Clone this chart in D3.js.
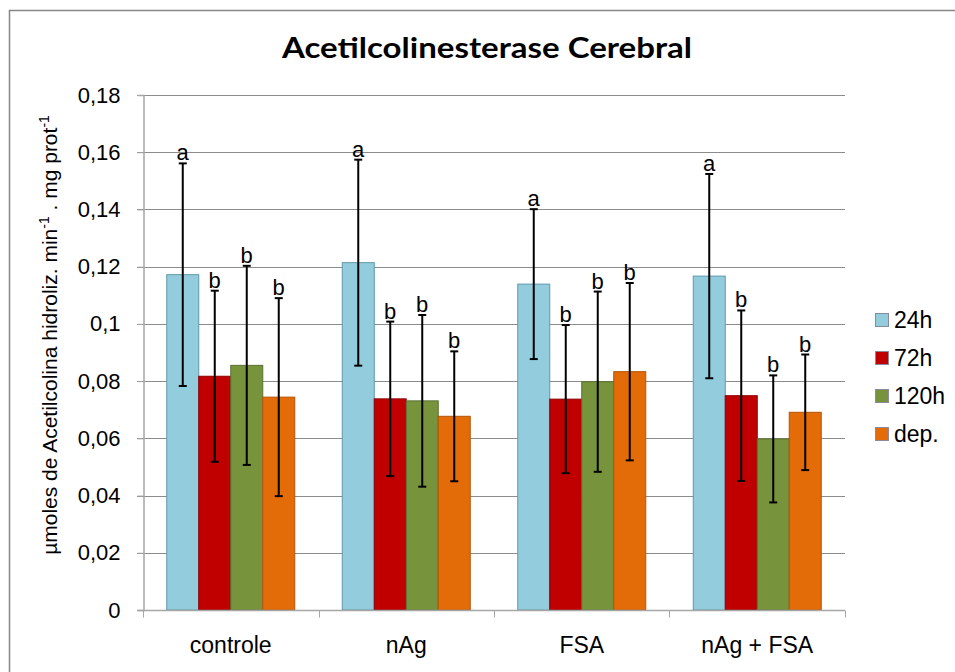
<!DOCTYPE html>
<html>
<head>
<meta charset="utf-8">
<script src="https://cdn.jsdelivr.net/npm/d3@7"></script>
<style>
  body { margin: 0; background: #fff; }
  text { font-family: "Liberation Sans", Arial, sans-serif; fill: #000; }
</style>
</head>
<body>
<svg id="chart" width="955" height="672"></svg>
<script>
// data
var groups = ['controle', 'nAg', 'FSA', 'nAg + FSA'];
var series = ['24h', '72h', '120h', 'dep.'];
var colors = ['#93cddd', '#c00000', '#77933c', '#e36c09'];
var borders = ['#5f98ab', '#8e0000', '#5a7030', '#b25407'];
var means = [
  [0.1172, 0.0817, 0.0855, 0.0744],
  [0.1214, 0.0738, 0.0731, 0.0677],
  [0.1139, 0.0737, 0.0798, 0.0833],
  [0.1167, 0.0749, 0.0598, 0.0691]
];
var sds = [
  [0.0389, 0.0299, 0.0348, 0.0346],
  [0.0360, 0.0270, 0.0300, 0.0227],
  [0.0262, 0.0259, 0.0315, 0.0310],
  [0.0357, 0.0298, 0.0222, 0.0202]
];
var letters = [
  ['a', 'b', 'b', 'b'],
  ['a', 'b', 'b', 'b'],
  ['a', 'b', 'b', 'b'],
  ['a', 'b', 'b', 'b']
];
var yTicks = [0, 0.02, 0.04, 0.06, 0.08, 0.1, 0.12, 0.14, 0.16, 0.18];

var svg = d3.select('#chart');

// outer chart frame
svg.append('rect')
  .attr('x', 9.5).attr('y', 10.5)
  .attr('width', 960).attr('height', 680)
  .attr('fill', 'none').attr('stroke', '#878787').attr('stroke-width', 1.5);

var x0 = d3.scaleBand().domain(groups).range([143, 845]).paddingInner(0.2707).paddingOuter(0.1354);
var x1 = d3.scaleBand().domain(series).range([0, x0.bandwidth()]);
var y = d3.scaleLinear().domain([0, 0.18]).range([610, 95]);

function fmt(d) { return String(+d.toFixed(2)).replace('.', ','); }

// gridlines
svg.append('g').selectAll('line').data(yTicks.slice(1)).enter().append('line')
  .attr('x1', 137).attr('x2', 845)
  .attr('y1', function (d) { return Math.round(y(d)) + 0.5; })
  .attr('y2', function (d) { return Math.round(y(d)) + 0.5; })
  .attr('stroke', '#8c8c8c').attr('stroke-width', 1);

// y axis
var yAxis = svg.append('g')
  .attr('transform', 'translate(143.5,0)')
  .call(d3.axisLeft(y).tickValues(yTicks).tickSize(6).tickPadding(17).tickFormat(fmt));
yAxis.select('.domain').attr('stroke', '#a6a6a6').attr('stroke-width', 1.5);
yAxis.selectAll('.tick line').attr('stroke', '#a6a6a6');
yAxis.selectAll('.tick text').attr('font-size', 22).attr('font-family', '"Liberation Sans", Arial, sans-serif').attr('fill', '#000');

// bars
var gGroups = svg.append('g').selectAll('g').data(groups).enter().append('g')
  .attr('transform', function (d) { return 'translate(' + x0(d) + ',0)'; });

gGroups.selectAll('rect').data(function (d, gi) {
  return series.map(function (s, si) { return { s: s, si: si, v: means[gi][si] }; });
}).enter().append('rect')
  .attr('x', function (d) { return x1(d.s); })
  .attr('y', function (d) { return y(d.v); })
  .attr('width', x1.bandwidth())
  .attr('height', function (d) { return y(0) - y(d.v); })
  .attr('fill', function (d) { return colors[d.si]; })
  .attr('stroke', function (d) { return borders[d.si]; })
  .attr('stroke-width', 1);

// x axis
var xAxis = svg.append('g')
  .attr('transform', 'translate(0,610.5)');
xAxis.append('line').attr('x1', 137).attr('x2', 845).attr('stroke', '#a6a6a6').attr('stroke-width', 1.5);
var catTicks = groups.map(function (g) { return x0(g) - x0.step() * x0.paddingInner() / 2; }).concat([845]);
xAxis.selectAll('.ctick').data(catTicks).enter().append('line')
  .attr('class', 'ctick')
  .attr('x1', function (d) { return Math.round(d) + 0.5; })
  .attr('x2', function (d) { return Math.round(d) + 0.5; })
  .attr('y1', 0).attr('y2', 7)
  .attr('stroke', '#a6a6a6').attr('stroke-width', 1);
xAxis.selectAll('.clabel').data(groups).enter().append('text')
  .attr('class', 'clabel')
  .attr('x', function (d) { return x0(d) + x0.bandwidth() / 2; })
  .attr('y', 42)
  .attr('text-anchor', 'middle')
  .attr('font-size', 23)
  .text(function (d) { return d; });

// error bars and letters
var eb = gGroups.selectAll('g.err').data(function (d, gi) {
  return series.map(function (s, si) { return { s: s, si: si, v: means[gi][si], sd: sds[gi][si], l: letters[gi][si] }; });
}).enter().append('g').attr('class', 'err');

function cx(d) { return x1(d.s) + x1.bandwidth() / 2; }
eb.append('line')
  .attr('x1', cx).attr('x2', cx)
  .attr('y1', function (d) { return y(d.v + d.sd); })
  .attr('y2', function (d) { return y(d.v - d.sd); })
  .attr('stroke', '#000').attr('stroke-width', 2);
[1, -1].forEach(function (k) {
  eb.append('line')
    .attr('x1', function (d) { return cx(d) - 4; })
    .attr('x2', function (d) { return cx(d) + 4; })
    .attr('y1', function (d) { return y(d.v + k * d.sd); })
    .attr('y2', function (d) { return y(d.v + k * d.sd); })
    .attr('stroke', '#000').attr('stroke-width', 2);
});
eb.append('text')
  .attr('x', cx)
  .attr('y', function (d) { return y(d.v + d.sd) - 3; })
  .attr('text-anchor', 'middle')
  .attr('font-size', 22)
  .text(function (d) { return d.l; });

// title
svg.append('text')
  .attr('x', 487).attr('y', 58)
  .attr('text-anchor', 'middle')
  .attr('font-weight', 'bold')
  .attr('font-size', 28)
  .attr('textLength', 410).attr('lengthAdjust', 'spacingAndGlyphs')
  .style('font-family', 'Lato, "Open Sans", sans-serif')
  .text('Acetilcolinesterase Cerebral');

// y axis label
var yl = svg.append('text')
  .attr('transform', 'translate(57,335) rotate(-90)')
  .attr('text-anchor', 'middle')
  .attr('font-size', 21);
yl.append('tspan').text('µmoles de Acetilcolina hidroliz. min');
yl.append('tspan').attr('dy', -8).attr('font-size', 14).text('-1');
yl.append('tspan').attr('dy', 8).text(' . mg prot');
yl.append('tspan').attr('dy', -8).attr('font-size', 14).text('-1');

// legend
var leg = svg.append('g').selectAll('g').data(series).enter().append('g')
  .attr('transform', function (d, i) { return 'translate(875,' + (320 + i * 38) + ')'; });
leg.append('rect')
  .attr('x', 0.5).attr('y', -6.5).attr('width', 13).attr('height', 13)
  .attr('fill', function (d, i) { return colors[i]; })
  .attr('stroke', '#8a8a9a').attr('stroke-width', 1);
leg.append('text')
  .attr('x', 19).attr('y', 8)
  .attr('font-size', 23)
  .text(function (d) { return d; });
</script>
</body>
</html>
